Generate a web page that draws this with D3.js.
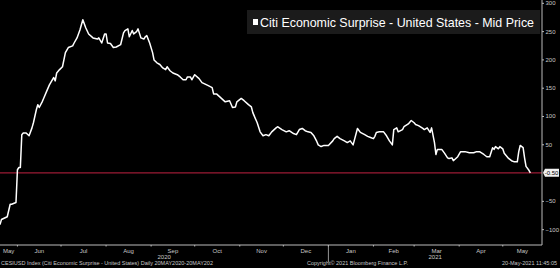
<!DOCTYPE html>
<html><head><meta charset="utf-8">
<script src="https://cdn.jsdelivr.net/npm/d3@7"></script>
<style>html,body{margin:0;padding:0;background:#000;}svg{display:block;}</style>
</head><body>
<svg id="chart" width="560" height="268"></svg>
<script>
const dates = ["2020-05-20","2020-05-21","2020-05-25","2020-05-27","2020-05-28","2020-05-31","2020-06-01","2020-06-02","2020-06-03","2020-06-04","2020-06-05","2020-06-07","2020-06-09","2020-06-11","2020-06-12","2020-06-14","2020-06-15","2020-06-16","2020-06-18","2020-06-19","2020-06-21","2020-06-23","2020-06-25","2020-06-26","2020-06-27","2020-06-28","2020-06-30","2020-07-02","2020-07-04","2020-07-06","2020-07-09","2020-07-10","2020-07-12","2020-07-14","2020-07-16","2020-07-18","2020-07-20","2020-07-23","2020-07-26","2020-07-27","2020-07-29","2020-07-31","2020-08-01","2020-08-02","2020-08-04","2020-08-06","2020-08-08","2020-08-11","2020-08-13","2020-08-14","2020-08-16","2020-08-17","2020-08-19","2020-08-20","2020-08-22","2020-08-23","2020-08-25","2020-08-27","2020-08-28","2020-08-29","2020-08-31","2020-09-02","2020-09-03","2020-09-05","2020-09-07","2020-09-09","2020-09-11","2020-09-12","2020-09-14","2020-09-16","2020-09-19","2020-09-21","2020-09-23","2020-09-25","2020-09-26","2020-09-28","2020-09-29","2020-10-01","2020-10-04","2020-10-06","2020-10-10","2020-10-13","2020-10-14","2020-10-16","2020-10-19","2020-10-22","2020-10-25","2020-10-27","2020-10-29","2020-10-30","2020-11-02","2020-11-04","2020-11-07","2020-11-09","2020-11-10","2020-11-13","2020-11-15","2020-11-17","2020-11-19","2020-11-21","2020-11-23","2020-11-26","2020-11-27","2020-11-30","2020-12-03","2020-12-05","2020-12-08","2020-12-10","2020-12-12","2020-12-14","2020-12-16","2020-12-18","2020-12-20","2020-12-22","2020-12-24","2020-12-25","2020-12-27","2020-12-29","2021-01-01","2021-01-04","2021-01-05","2021-01-07","2021-01-09","2021-01-12","2021-01-14","2021-01-16","2021-01-18","2021-01-21","2021-01-23","2021-01-26","2021-01-28","2021-01-30","2021-02-01","2021-02-02","2021-02-03","2021-02-05","2021-02-08","2021-02-10","2021-02-12","2021-02-14","2021-02-15","2021-02-17","2021-02-18","2021-02-21","2021-02-22","2021-02-25","2021-02-27","2021-03-01","2021-03-02","2021-03-04","2021-03-07","2021-03-08","2021-03-10","2021-03-12","2021-03-13","2021-03-15","2021-03-16","2021-03-17","2021-03-20","2021-03-22","2021-03-24","2021-03-25","2021-03-27","2021-03-28","2021-03-31","2021-04-02","2021-04-05","2021-04-08","2021-04-11","2021-04-13","2021-04-15","2021-04-18","2021-04-20","2021-04-22","2021-04-24","2021-04-25","2021-04-26","2021-04-28","2021-04-29","2021-05-01","2021-05-02","2021-05-05","2021-05-07","2021-05-09","2021-05-11","2021-05-12","2021-05-13","2021-05-15","2021-05-16","2021-05-17","2021-05-19","2021-05-20"];
const values = [-92,-83,-78,-56,-56,-53,5,9,9,67,70,70,65,79,88,111,120,115,125,131,143,155,164,168,162,176,182,187,212,221,224,229,238,252,270,256,245,238,236,238,229,245,245,229,228,221,222,226,247,251,254,240,251,245,249,254,238,236,240,242,229,212,199,194,191,185,182,187,180,176,173,169,164,164,169,169,164,173,166,159,154,150,139,139,132,125,127,115,116,125,131,127,120,116,106,88,72,65,67,65,72,79,81,76,72,74,69,67,76,78,74,72,71,65,55,49,46,48,48,56,60,64,60,56,53,56,49,78,71,67,64,62,60,64,71,72,72,65,56,49,76,79,72,76,81,86,92,88,85,83,78,76,79,71,79,53,32,41,41,34,26,25,26,21,28,37,37,35,35,37,37,32,28,28,44,41,46,42,46,42,34,25,21,19,19,37,48,44,26,11,4,-0.5];
const yTicks = [300,250,200,150,100,50,-50,-100];
const lastValueLabel = "-0.50";
const seriesName = "Citi Economic Surprise - United States - Mid Price";
const footerLeft = "CESIUSD Index (Citi Economic Surprise - United States)  Daily 20MAY2020-20MAY202";
const footerMid = "Copyright\u00A9 2021 Bloomberg Finance L.P.";
const footerRight = "20-May-2021 11:45:05";

const parse = d3.timeParse("%Y-%m-%d");
const data = dates.map((d,i)=>({date:parse(d), value:values[i]}));

const svg = d3.select("#chart");
svg.append("rect").attr("width",560).attr("height",268).attr("fill","#000");

const plotL = 0, plotR = 542, plotT = 0, plotB = 245;
const x = d3.scaleTime().domain([parse("2020-05-20"), parse("2021-05-28")]).range([plotL, plotR]);
const y = d3.scaleLinear().domain([-128, 305]).range([plotB, plotT]);

const font = "'Liberation Sans', Arial, sans-serif";
const small = 6;
const txtCol = "#c8c8c8";

// red reference line at last value
svg.append("line").attr("x1",plotL).attr("x2",plotR)
  .attr("y1",y(-0.5)).attr("y2",y(-0.5))
  .attr("stroke","#9b1b35").attr("stroke-width",1.2);

// series line
svg.append("path").datum(data)
  .attr("fill","none").attr("stroke","#ffffff").attr("stroke-width",1.5)
  .attr("stroke-linejoin","round")
  .attr("d", d3.line().x(d=>x(d.date)).y(d=>y(d.value)));

// right axis
const yAxis = d3.axisRight(y).tickValues(yTicks).tickSize(2).tickPadding(1.5).tickFormat(d3.format("d"));
const yg = svg.append("g").attr("transform",`translate(${plotR},0)`).call(yAxis);
yg.select(".domain").attr("stroke","#bbb").attr("d",`M0,${plotT}V${plotB}`);
yg.selectAll(".tick line").attr("stroke","#bbb");
yg.selectAll(".tick text").attr("fill",txtCol).attr("font-family",font).attr("font-size",small);

// last value label box
const lvY = y(-0.5);
svg.append("path").attr("d",`M${plotR+1},${lvY} L${plotR+3},${lvY-4} H559 V${lvY+4} H${plotR+3} Z`).attr("fill","#f0f0f0");
svg.append("text").attr("x",551.5).attr("y",lvY+2).attr("text-anchor","middle")
  .attr("font-family",font).attr("font-size",small).attr("fill","#000").text(lastValueLabel);

// bottom axis
svg.append("line").attr("x1",plotL).attr("x2",plotR).attr("y1",plotB).attr("y2",plotB).attr("stroke","#bbb").attr("stroke-width",1);
const monthStarts = d3.timeMonth.range(parse("2020-06-01"), parse("2021-05-28"));
svg.append("g").selectAll("line").data(monthStarts).join("line")
  .attr("x1",d=>x(d)).attr("x2",d=>x(d)).attr("y1",plotB).attr("y2",plotB+1.5)
  .attr("stroke","#bbb");
// month labels centered in each month interval (clipped to domain)
const [d0,d1] = x.domain();
const months = d3.timeMonth.range(d3.timeMonth.floor(d0), d1);
svg.append("g").selectAll("text").data(months).join("text")
  .attr("x",d=>{const a=d<d0?d0:d; const e=d3.timeMonth.offset(d,1); const b=e>d1?d1:e; return (x(a)+x(b))/2;})
  .attr("y",252.5).attr("text-anchor","middle")
  .attr("font-family",font).attr("font-size",small).attr("fill",txtCol)
  .text(d=>d3.timeFormat("%b")(d));
// year labels
const years = [{yr:"2020", a:d0, b:parse("2021-01-01")},{yr:"2021", a:parse("2021-01-01"), b:d1}];
svg.append("g").selectAll("text").data(years).join("text")
  .attr("x",d=>(x(d.a)+x(d.b))/2).attr("y",259).attr("text-anchor","middle")
  .attr("font-family",font).attr("font-size",small).attr("fill",txtCol).text(d=>d.yr);
svg.append("line").attr("x1",x(parse("2021-01-01"))).attr("x2",x(parse("2021-01-01")))
  .attr("y1",plotB).attr("y2",262).attr("stroke","#bbb").attr("stroke-width",0.8);

// footer
svg.append("text").attr("x",1).attr("y",265.3).attr("font-family",font).attr("font-size",small)
  .attr("fill",txtCol).attr("textLength",212).attr("lengthAdjust","spacingAndGlyphs").text(footerLeft);
svg.append("text").attr("x",307).attr("y",265.3).attr("font-family",font).attr("font-size",small)
  .attr("fill",txtCol).attr("textLength",101).attr("lengthAdjust","spacingAndGlyphs").text(footerMid);
svg.append("text").attr("x",557).attr("y",265.3).attr("text-anchor","end").attr("font-family",font).attr("font-size",5.5)
  .attr("fill",txtCol).text(footerRight);

// legend
const lg = svg.append("g");
lg.append("rect").attr("x",247).attr("y",10).attr("width",293).attr("height",24).attr("fill","#1b1b1b");
lg.append("rect").attr("x",253).attr("y",19).attr("width",5).attr("height",6).attr("fill","#fff");
lg.append("text").attr("x",260).attr("y",27).attr("font-family",font).attr("font-size",13)
  .attr("fill","#fff").attr("textLength",274).attr("lengthAdjust","spacingAndGlyphs").text(seriesName);
</script>
</body></html>
